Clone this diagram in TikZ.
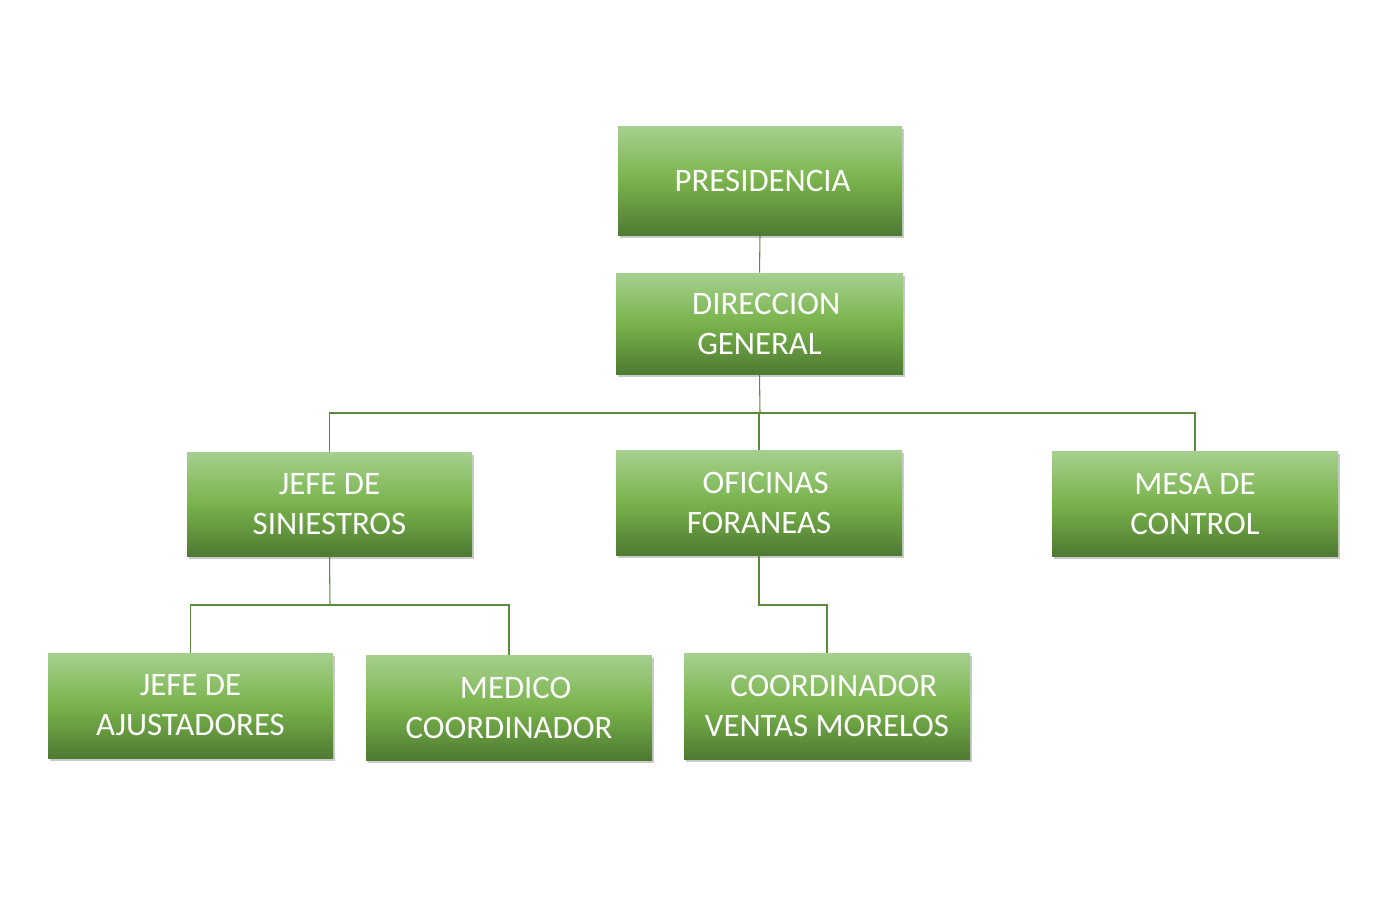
\documentclass[tikz,border=0pt]{standalone}
\usepackage{fontspec}
\setmainfont{Carlito}
\usetikzlibrary{shadows,calc}
\definecolor{gtop}{HTML}{A6D08F}
\definecolor{gmid}{HTML}{79B34B}
\definecolor{gbot}{HTML}{4E7A32}
\definecolor{lin}{HTML}{5A8A3C}
\tikzset{
  orgbox/.style={rectangle, inner sep=0pt, align=center, text=white,
    top color=gtop, bottom color=gbot, middle color=gmid,
    font=\fontsize{24.6}{30}\selectfont,
    drop shadow={shadow xshift=1.5pt, shadow yshift=-2.5pt, opacity=0.35, fill=black!60}},
  conn/.style={draw=lin, line width=0.8pt}
}
\begin{document}
\begin{tikzpicture}[x=0.75pt,y=-0.75pt]
\useasboundingbox (0,0) rectangle (1386,897);
\node[orgbox, minimum width=213pt, minimum height=81.75pt] (pres) at (760,180.5) {\hspace*{4pt}PRESIDENCIA};
\node[orgbox, minimum width=215.25pt, minimum height=75.75pt] (dir) at (759.5,323.5) {\hspace*{10pt}DIRECCION\\GENERAL};
\node[orgbox, minimum width=213.75pt, minimum height=78pt] (jefe) at (329.5,504) {JEFE DE\\SINIESTROS};
\node[orgbox, minimum width=214.5pt, minimum height=78.75pt] (ofic) at (759,502.5) {\hspace*{10pt}OFICINAS\\FORANEAS};
\node[orgbox, minimum width=214.5pt, minimum height=78.75pt] (mesa) at (1195,503.5) {MESA DE\\CONTROL};
\node[orgbox, minimum width=213.75pt, minimum height=78.75pt] (ajus) at (190.5,705.5) {JEFE DE\\AJUSTADORES};
\node[orgbox, minimum width=214.5pt, minimum height=78.75pt] (medico) at (509,707.5) {\hspace*{10pt}MEDICO\\COORDINADOR};
\node[orgbox, minimum width=214.5pt, minimum height=79.5pt] (coord) at (827,706) {\hspace*{10pt}COORDINADOR\\VENTAS MORELOS};
\coordinate (b1) at (760,413);
\coordinate (b2) at (330,605);
\coordinate (b3) at (827,605);
\draw[conn] (pres.south) -- (dir.north);
\draw[conn] (dir.south) -- (b1);
\draw[conn] (jefe.north) |- (b1) -| (mesa.north);
\draw[conn] (ofic.north) -- (ofic.north |- b1);
\draw[conn] (jefe.south) -- (b2);
\draw[conn] (ajus.north) |- (b2) -| (medico.north);
\draw[conn] (ofic.south) |- (b3) -- (coord.north);
\end{tikzpicture}
\end{document}
